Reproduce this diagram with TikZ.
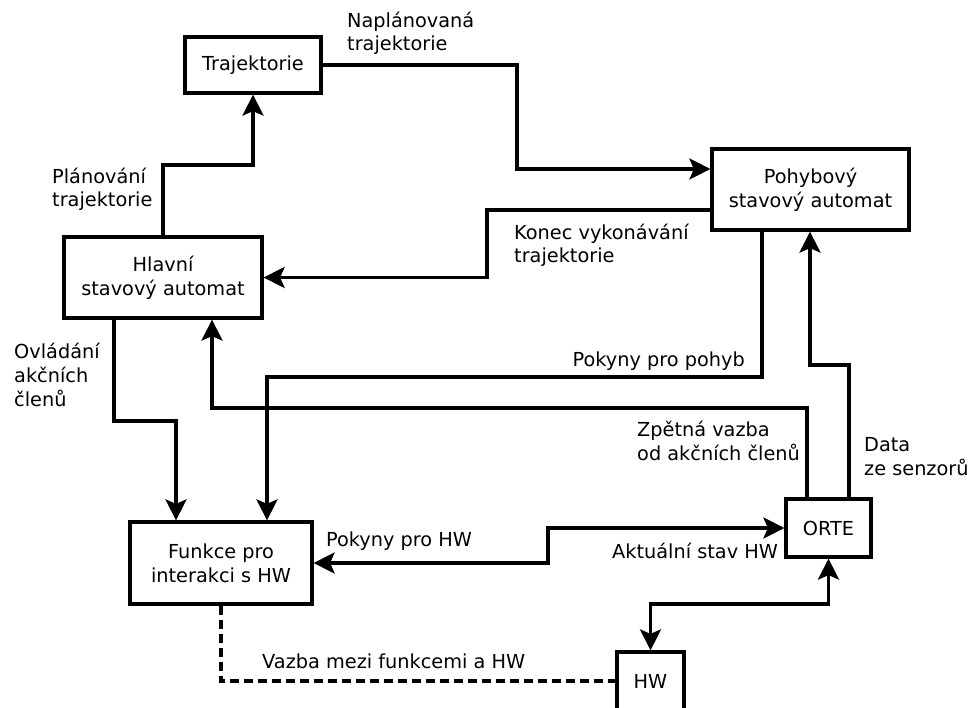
\documentclass[tikz,border=0pt]{standalone}
\usepackage{fontspec}
\setmainfont{DejaVu Sans}
\usetikzlibrary{arrows.meta}
\begin{document}
\begin{tikzpicture}[x=1pt,y=-1pt,
  txt/.style={font=\fontsize{19.3}{23.7}\selectfont},
  block/.style={txt, draw, line width=3.2pt, inner sep=0pt, align=center},
  lbl/.style={txt, inner sep=0pt, align=left, anchor=base west},
  wire/.style={line width=3.2pt},
  tip/.tip={Stealth[length=21pt,width=21pt,inset=4.5pt]},
  arr/.style={wire, -tip},
  arrboth/.style={wire, tip-tip},
  link/.style={line width=3.2pt, dash pattern=on 9pt off 5pt}]
\useasboundingbox (0,0) rectangle (973,708);

% blocks
\node[block, minimum width=136pt, minimum height=56pt] (traj) at (253,65) {Trajektorie};
\node[block, minimum width=198pt, minimum height=81pt] (hlavni) at (163,277.5) {Hlavní\\stavový automat};
\node[block, minimum width=197pt, minimum height=81pt] (pohyb) at (810.5,189.5) {Pohybový\\stavový automat};
\node[block, minimum width=182pt, minimum height=82pt] (funkce) at (221,563) {Funkce pro\\interakci s HW};
\node[block, minimum width=85pt, minimum height=58pt] (orte) at (828.5,528) {ORTE};
\node[block, minimum width=67pt, minimum height=58pt] (hw) at (650.5,681) {HW};

% connectors
\draw[arr] (hlavni.north) -- (hlavni.north |- 0,165) -| (traj.south);
\draw[arr] (traj.east) -| (517,169) -- (pohyb.west |- 0,169);
\draw[arr] (pohyb.west |- 0,210) -| (487,277.5) -- (hlavni.east);
\draw[arr] (pohyb.south -| 762,0) |- (267,377) -- (funkce.north -| 267,0);
\draw[arr] (orte.north -| 807,0) |- (212,408) -- (hlavni.south -| 212,0);
\draw[arr] (orte.north -| 849,0) |- (810,365) -- (pohyb.south -| 810,0);
\draw[arr] (hlavni.south -| 114,0) |- (176,421) -- (funkce.north -| 176,0);
\draw[arrboth] (funkce.east) -| (548,528) -- (orte.west);
\draw[arrboth] (orte.south) |- (650.5,604) -- (hw.north);
\draw[link] (funkce.south) |- (hw.west);

% labels (anchored at the baseline of their last line)
\node[lbl] (l1) at (347,51) {Naplánovaná\\trajektorie};
\node[lbl] (l2) at (52,207) {Plánování\\trajektorie};
\node[lbl] (l3) at (514,263) {Konec vykonávání\\trajektorie};
\node[lbl, anchor=base east] (l4) at (745,366) {Pokyny pro pohyb};
\node[lbl] (l5) at (14,406) {Ovládání\\akčních\\členů};
\node[lbl] (l6) at (637,460) {Zpětná vazba\\od akčních členů};
\node[lbl] (l7) at (864,475) {Data\\ze senzorů};
\node[lbl] (l8) at (326,546) {Pokyny pro HW};
\node[lbl] (l9) at (612,558) {Aktuální stav HW};
\node[lbl] (l10) at (262,668) {Vazba mezi funkcemi a HW};
\end{tikzpicture}
\end{document}
